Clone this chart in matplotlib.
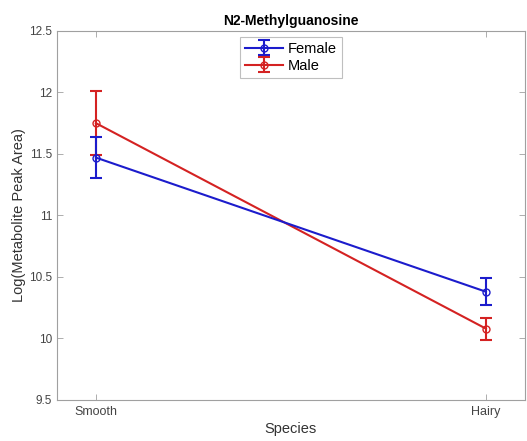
import numpy as np
import matplotlib.pyplot as plt

plt.rcParams['font.family'] = ['Liberation Sans', 'DejaVu Sans']

species = ['Smooth', 'Hairy']
female_mean = [11.47, 10.38]
female_err = [0.165, 0.11]
male_mean = [11.75, 10.08]
male_err = [0.26, 0.09]

fig = plt.figure(figsize=(5.27, 4.41), dpi=100)
ax = fig.add_axes([0.108, 0.093, 0.888, 0.837])

x = np.arange(1, len(species) + 1)
ax.errorbar(x, female_mean, yerr=female_err, color='#1c1ccc', marker='o',
            markersize=5, markerfacecolor='none', capsize=4, lw=1.5,
            capthick=1.5, label='Female', zorder=4)
ax.errorbar(x, male_mean, yerr=male_err, color='#d42222', marker='o',
            markersize=5, markerfacecolor='none', capsize=4, lw=1.5,
            capthick=1.5, label='Male', zorder=3)

ax.set_xlim(0.9, 2.1)
ax.set_ylim(9.5, 12.5)
ax.set_xticks(x)
ax.set_xticklabels(species)
ax.set_yticks(np.arange(9.5, 12.51, 0.5))
ax.set_yticklabels(['9.5', '10', '10.5', '11', '11.5', '12', '12.5'])
ax.tick_params(direction='in', top=True, right=True, length=4, width=0.6,
               color='#a0a0a0', labelcolor='#444444')
ax.tick_params(axis='x', labelsize=9, pad=4)
ax.tick_params(axis='y', labelsize=8.5)
for s in ax.spines.values():
    s.set_color('#a0a0a0')
    s.set_linewidth(0.8)

ax.set_xlabel('Species', fontsize=10.5, color='#333333', labelpad=3)
ax.set_ylabel('Log(Metabolite Peak Area)', fontsize=10.5, color='#333333',
              labelpad=2)
ax.set_title('N2-Methylguanosine', fontsize=10, fontweight='bold', pad=4)

leg = ax.legend(loc='upper center', fontsize=10.5, fancybox=False,
                borderpad=0.35, handletextpad=0.3, labelspacing=0.2,
                handlelength=2.6, borderaxespad=0.4)
leg.get_frame().set_edgecolor('#b0b0b0')
leg.get_frame().set_linewidth(0.8)

fig.savefig('out.png', dpi=100)
